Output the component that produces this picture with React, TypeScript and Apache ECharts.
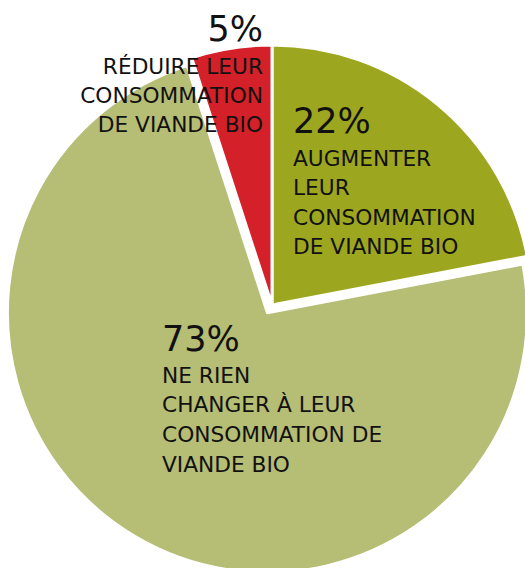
import React, { useEffect, useRef } from "react";
import * as echarts from "echarts";

const categories = [
  "Augmenter leur consommation de viande bio",
  "Ne rien changer à leur consommation de viande bio",
  "Réduire leur consommation de viande bio",
];
const values = [22, 73, 5];
const colors = ["#9da61f", "#b6bd74", "#d42028"];
const labelLines = [
  ["AUGMENTER", "LEUR", "CONSOMMATION", "DE VIANDE BIO"],
  ["NE RIEN", "CHANGER À LEUR", "CONSOMMATION DE", "VIANDE BIO"],
  ["RÉDUIRE LEUR", "CONSOMMATION", "DE VIANDE BIO"],
];

export default function App() {
  const ref = useRef<HTMLDivElement>(null);
  useEffect(() => {
    document.body.style.margin = "0";
    if (!ref.current) return;
    const chart = echarts.init(ref.current, undefined, { renderer: "svg" });
    const font = "DejaVu Sans";
    const bigSize = 35;
    const smallSize = 21.7;
    const mid = (baseline: number, size: number) => baseline - size * 0.36;

    // label anchor layout: [x, percentBaseline, firstLineBaseline, lineStep, align]
    const anchors: [number, number, number, number, "left" | "right"][] = [
      [293, 134, 166, 29.5, "left"],
      [162, 352, 383, 29.7, "left"],
      [263, 42, 74, 29, "right"],
    ];

    const graphic: any[] = [];
    values.forEach((v, i) => {
      const [x, pb, fb, step, align] = anchors[i];
      graphic.push({
        type: "text",
        x,
        y: mid(pb, bigSize),
        style: {
          text: v + "%",
          font: `${bigSize}px "${font}"`,
          fill: "#111",
          align,
          verticalAlign: "middle",
        },
        z: 10,
      });
      labelLines[i].forEach((line, j) => {
        graphic.push({
          type: "text",
          x,
          y: mid(fb + j * step, smallSize),
          style: {
            text: line,
            font: `${smallSize}px "${font}"`,
            fill: "#111",
            align,
            verticalAlign: "middle",
          },
          z: 10,
        });
      });
    });

    chart.setOption({
      animation: false,
      backgroundColor: "#ffffff",
      graphic,
      series: [
        {
          type: "pie",
          center: [272, 305],
          radius: 260,
          startAngle: 90,
          clockwise: true,
          selectedMode: "single",
          selectedOffset: 9,
          label: { show: false },
          labelLine: { show: false },
          emphasis: { disabled: true },
          itemStyle: { borderColor: "#ffffff", borderWidth: 3 },
          data: values.map((v, i) => ({
            value: v,
            name: categories[i],
            selected: i === 1,
            itemStyle: { color: colors[i] },
          })),
        },
      ],
    });
    return () => chart.dispose();
  }, []);
  return <div ref={ref} style={{ width: 525, height: 568 }} />;
}
